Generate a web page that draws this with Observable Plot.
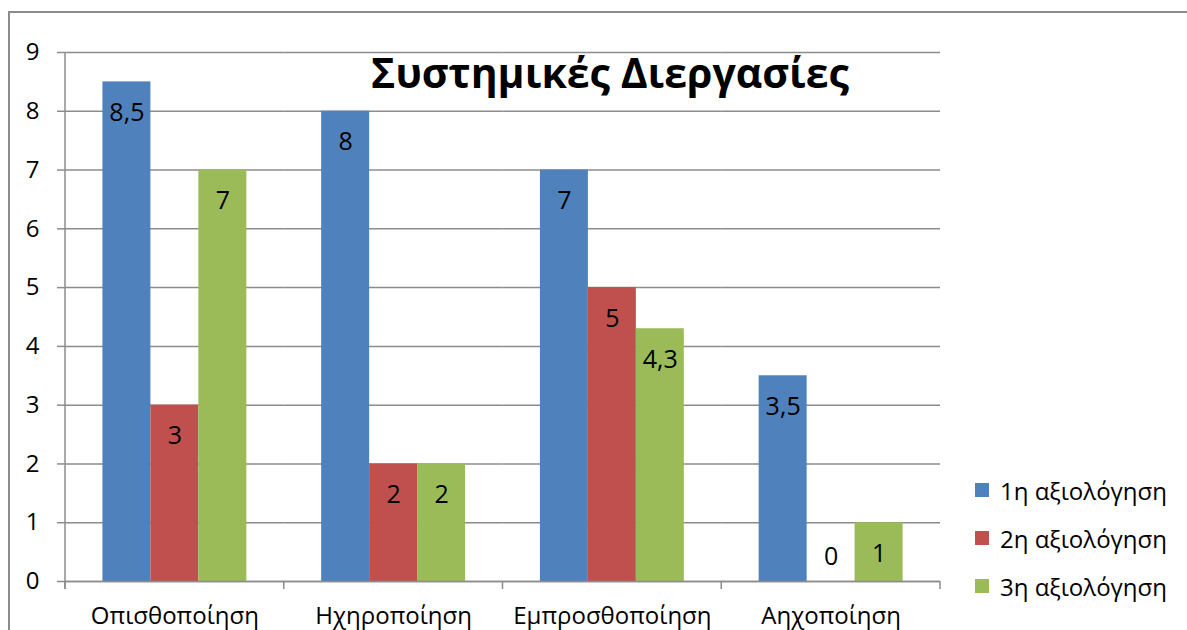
<!DOCTYPE html>
<html><head><meta charset="utf-8">
<script src="https://cdn.jsdelivr.net/npm/d3@7"></script>
<script src="https://cdn.jsdelivr.net/npm/@observablehq/plot@0.6"></script>
<style>
body{margin:0;background:#fff;font-family:"Open Sans",sans-serif;}
#wrap{position:relative;width:1187px;height:630px;overflow:hidden;background:#fff;}
#wrap svg{position:absolute;left:0;top:0;}
#border{position:absolute;left:8px;top:11px;width:1220px;height:660px;border:2px solid #8c8c8c;box-sizing:border-box;}
#title{position:absolute;left:0;width:1220px;top:43px;text-align:center;font-size:41px;font-weight:700;color:#000;line-height:58px;}
#legend{position:absolute;left:975px;top:466px;}
.item{display:flex;align-items:center;height:48px;font-size:24px;color:#000;}
.sw{width:14px;height:14px;margin-right:11px;}
</style></head>
<body><div id="wrap"></div>
<script>
const categories = ["Οπισθοποίηση", "Ηχηροποίηση", "Εμπροσθοποίηση", "Αηχοποίηση"];
const series = ["1η αξιολόγηση", "2η αξιολόγηση", "3η αξιολόγηση"];
const values1 = [8.5, 8, 7, 3.5];
const values2 = [3, 2, 5, 0];
const values3 = [7, 2, 4.3, 1];
const colors = ["#4F81BD", "#C0504D", "#9BBB59"];
const yTicks = [0, 1, 2, 3, 4, 5, 6, 7, 8, 9];
const title = "Συστημικές Διεργασίες";

const allValues = [values1, values2, values3];
const data = [];
categories.forEach((c, i) => series.forEach((s, j) => data.push({cat: c, series: s, value: allValues[j][i]})));

const gray = "#8c8c8c";
const fmt = v => String(v).replace(".", ",");

const plot = Plot.plot({
  width: 1187,
  height: 630,
  marginLeft: 65,
  marginRight: 247,
  marginTop: 52,
  marginBottom: 49,
  style: {background: "transparent", fontFamily: "Open Sans", overflow: "visible"},
  fx: {domain: categories, padding: 0, round: false},
  x: {domain: series, paddingInner: 0, paddingOuter: 0.78, round: false, axis: null},
  y: {domain: [0, 9], axis: null},
  color: {domain: series, range: colors},
  marks: [
    Plot.gridY(yTicks, {stroke: gray, strokeOpacity: 1, strokeWidth: 1.5}),
    Plot.axisY(yTicks, {tickSize: 8, tickPadding: 18, fontSize: 24, stroke: gray, strokeWidth: 1.5, fill: "#000", tickFormat: d => d, label: null}),
    Plot.barY(data, {fx: "cat", x: "series", y: "value", fill: "series"}),
    Plot.ruleY([0], {stroke: gray, strokeWidth: 1.5}),
    Plot.text(data.filter(d => d.value > 0), {fx: "cat", x: "series", y: "value", text: d => fmt(d.value), dy: 31, fontSize: 25, fill: "#000"}),
    Plot.text(data.filter(d => d.value === 0), {fx: "cat", x: "series", y: "value", text: d => fmt(d.value), dy: -25, fontSize: 25, fill: "#000"}),
    Plot.axisFx({anchor: "bottom", tickSize: 0, tickPadding: 25, fontSize: 24, fill: "#000", label: null})
  ]
});

const wrap = document.getElementById("wrap");
wrap.appendChild(plot);

// axis line and category boundary ticks, positioned from the plot's own scales
const fxS = plot.scale("fx"), yS = plot.scale("y");
const svg = d3.select(plot);
const y0 = yS.apply(0), yTop = yS.apply(9);
const x0 = fxS.apply(categories[0]);
svg.append("line").attr("x1", x0).attr("x2", x0).attr("y1", yTop).attr("y2", y0 + 8)
  .attr("stroke", gray).attr("stroke-width", 1.5);
const bounds = categories.map(c => fxS.apply(c)).concat([fxS.apply(categories[categories.length - 1]) + fxS.bandwidth]);
svg.selectAll(null).data(bounds).join("line")
  .attr("x1", d => d).attr("x2", d => d).attr("y1", y0).attr("y2", y0 + 8)
  .attr("stroke", gray).attr("stroke-width", 1.5);

const t = document.createElement("div");
t.id = "title"; t.textContent = title;
wrap.appendChild(t);
const b = document.createElement("div");
b.id = "border"; wrap.appendChild(b);
const lg = document.createElement("div");
lg.id = "legend";
series.forEach((s, i) => {
  const it = document.createElement("div"); it.className = "item";
  const sw = document.createElement("div"); sw.className = "sw"; sw.style.background = colors[i];
  const tx = document.createElement("span"); tx.textContent = s;
  it.appendChild(sw); it.appendChild(tx); lg.appendChild(it);
});
wrap.appendChild(lg);
</script>
</body></html>
